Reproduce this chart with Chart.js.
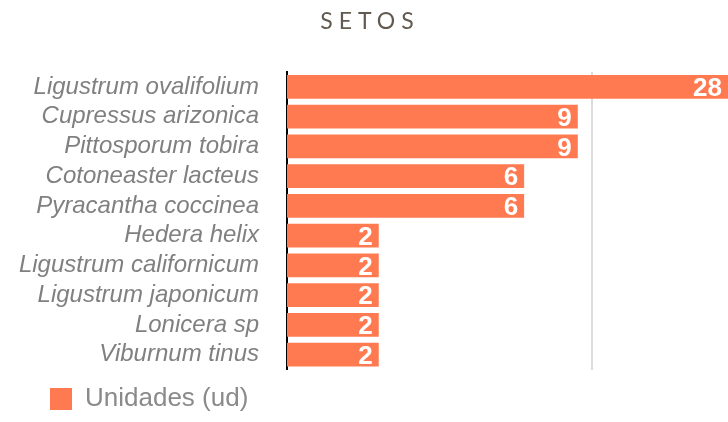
<!DOCTYPE html>
<html>
<head>
<meta charset="utf-8">
<script src="https://cdn.jsdelivr.net/npm/chart.js@4"></script>
<style>
    body { margin: 0; background: #fff; }
    #wrap { width: 728px; height: 422px; position: relative; }
</style>
</head>
<body>
<div id="wrap"><canvas id="setosChart"></canvas></div>
<script>

// DADOS

const titulo = 'SETOS';

const especies = [
    'Ligustrum ovalifolium',
    'Cupressus arizonica',
    'Pittosporum tobira',
    'Cotoneaster lacteus',
    'Pyracantha coccinea',
    'Hedera helix',
    'Ligustrum californicum',
    'Ligustrum japonicum',
    'Lonicera sp',
    'Viburnum tinus'
];

const unidades = [28, 9, 9, 6, 6, 2, 2, 2, 2, 2];

const serieNome = 'Unidades (ud)';

const corBarra = '#ff7a50';

// TITULO (com espaçamento entre letras)

const tituloPlugin = {
    id: 'tituloSetos',
    afterLayout(chart) {
        // deixar os nomes longos passarem da margem esquerda
        chart.scales.y.left = 0;
    },
    afterDraw(chart) {
        const c = chart.ctx;
        c.save();
        c.font = '400 23px Lato';
        c.fillStyle = '#625a50';
        c.textAlign = 'center';
        c.textBaseline = 'middle';
        c.letterSpacing = '6px';
        c.fillText(titulo, chart.width / 2 + 6, 22);
        c.restore();
    }
};

// VALORES DENTRO DAS BARRAS

const valoresPlugin = {
    id: 'valoresBarras',
    afterDatasetsDraw(chart) {
        const c = chart.ctx;
        const meta = chart.getDatasetMeta(0);
        c.save();
        c.font = 'bold 26px "Liberation Sans", Arial, sans-serif';
        c.fillStyle = '#ffffff';
        c.textAlign = 'right';
        c.textBaseline = 'middle';
        meta.data.forEach((bar, i) => {
            c.fillText(String(unidades[i]), bar.x - 6, bar.y + 2);
        });
        c.restore();
    }
};

const ctx = document.getElementById('setosChart');

new Chart(ctx, {

    type: 'bar',

    data: {
        labels: especies,
        datasets: [{
            label: serieNome,
            data: unidades,
            backgroundColor: corBarra,
            borderWidth: 0,
            categoryPercentage: 1,
            barPercentage: 0.8
        }]
    },

    options: {
        indexAxis: 'y',
        responsive: true,
        maintainAspectRatio: false,
        animation: false,
        layout: {
            padding: { top: 72, left: 41.5, right: 0, bottom: 0 }
        },
        scales: {
            x: {
                type: 'logarithmic',
                min: 1,
                max: 28,
                afterFit(scale) {
                    scale.height = 8;
                },
                ticks: { display: false },
                border: { display: false },
                grid: {
                    drawTicks: false,
                    lineWidth: 2,
                    color: (c) => (c.tick && c.tick.value === 10) ? '#dcdcdc' : 'rgba(0,0,0,0)'
                }
            },
            y: {
                afterFit(scale) {
                    scale.width = 245.5;
                },
                grid: { display: false, drawTicks: false },
                border: { display: true, color: '#000', width: 2 },
                ticks: {
                    autoSkip: false,
                    padding: 28,
                    color: '#808080',
                    font: { family: '"Liberation Sans", Arial, sans-serif', size: 24, style: 'italic' }
                }
            }
        },
        plugins: {
            title: { display: false },
            tooltip: { enabled: false },
            legend: {
                position: 'bottom',
                align: 'start',
                labels: {
                    boxWidth: 22,
                    boxHeight: 22,
                    padding: 8.5,
                    color: '#8a8a8a',
                    font: { family: '"Liberation Sans", Arial, sans-serif', size: 26 }
                }
            }
        }
    },

    plugins: [tituloPlugin, valoresPlugin]

});

</script>
</body>
</html>
